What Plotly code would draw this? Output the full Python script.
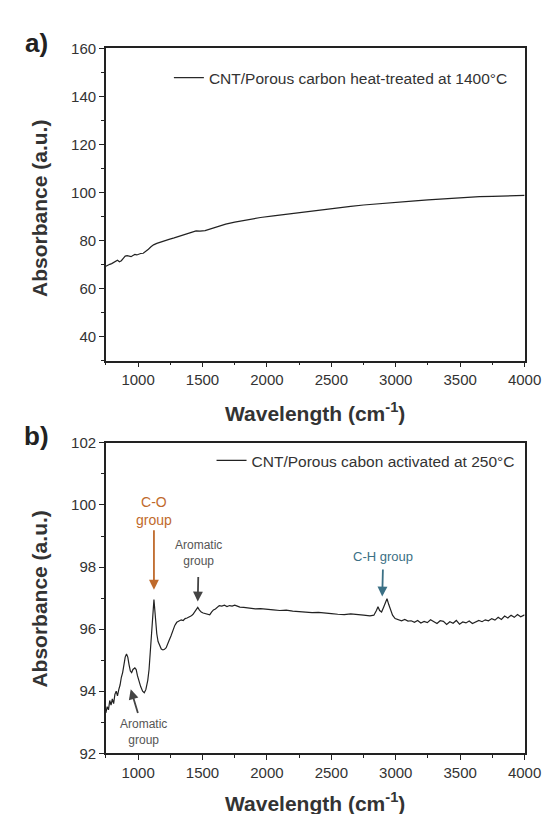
import plotly.graph_objects as go

# panel a) - heat-treated sample
wn_a = [750, 765, 780, 795, 810, 825, 840, 855, 870, 885, 900, 915, 930, 945, 960, 975, 990,
        1005, 1020, 1040, 1060, 1080, 1100, 1120, 1145, 1170, 1200, 1240, 1280, 1320, 1370,
        1420, 1450, 1480, 1520, 1570, 1620, 1680, 1750, 1850, 1950, 2050, 2150, 2250, 2350,
        2450, 2550, 2650, 2750, 2850, 2950, 3050, 3150, 3250, 3350, 3450, 3550, 3650, 3750,
        3850, 3950, 4000]
abs_a = [69.3, 69.8, 70.1, 70.4, 70.9, 71.5, 71.8, 71.2, 71.6, 72.6, 73.5, 73.7, 73.4, 73.3,
         73.8, 74.2, 74.0, 74.4, 74.6, 74.7, 75.4, 76.4, 77.4, 78.2, 78.8, 79.3, 79.8, 80.5,
         81.1, 81.7, 82.5, 83.5, 84.0, 83.9, 84.1, 85.0, 85.9, 86.8, 87.7, 88.7, 89.6, 90.3,
         91.0, 91.6, 92.2, 92.8, 93.5, 94.2, 94.8, 95.3, 95.7, 96.1, 96.5, 96.9, 97.3, 97.7,
         98.0, 98.3, 98.4, 98.5, 98.7, 98.8]

# panel b) - activated sample
wn_b = [750, 760, 770, 780, 790, 800, 810, 820, 830, 840, 850, 860, 870, 880, 890, 900, 910,
        920, 930, 940, 950, 960, 975, 985, 995, 1005, 1020, 1035, 1048, 1060, 1075, 1085,
        1095, 1105, 1112, 1118, 1123, 1130, 1137, 1145, 1155, 1168, 1180, 1193, 1205, 1218,
        1230, 1242, 1255, 1270, 1285, 1300, 1318, 1335, 1350, 1365, 1380, 1395, 1410, 1425,
        1440, 1452, 1463, 1475, 1490, 1505, 1520, 1540, 1556, 1570, 1585, 1600, 1615, 1630,
        1650, 1670, 1690, 1710, 1730, 1750, 1770, 1790, 1820, 1850, 1880, 1910, 1950, 2000,
        2050, 2100, 2150, 2200, 2250, 2300, 2350, 2400, 2450, 2500, 2550, 2600, 2650, 2700,
        2750, 2800, 2830, 2850, 2862, 2875, 2890, 2905, 2920, 2932, 2945, 2960, 2975, 2995,
        3020, 3045, 3070, 3095, 3120, 3145, 3170, 3195, 3220, 3245, 3270, 3295, 3320, 3345,
        3370, 3395, 3420, 3445, 3470, 3495, 3520, 3545, 3570, 3595, 3620, 3645, 3670, 3695,
        3720, 3745, 3770, 3795, 3820, 3845, 3870, 3895, 3920, 3945, 3970, 4000]
abs_b = [93.3, 93.5, 93.4, 93.7, 93.55, 93.75, 93.6, 93.9, 94.0, 93.85, 94.05, 94.2, 94.45,
         94.6, 94.85, 95.1, 95.2, 95.1, 94.85, 94.65, 94.6, 94.7, 94.75, 94.7, 94.5, 94.35,
         94.15, 94.0, 93.95, 94.05, 94.35, 94.7, 95.3, 95.8, 96.4, 96.85, 96.95, 96.6, 96.2,
         95.85, 95.6, 95.45, 95.36, 95.33, 95.35, 95.4, 95.5, 95.65, 95.78, 95.95, 96.12,
         96.22, 96.26, 96.3, 96.28, 96.34, 96.36, 96.38, 96.42, 96.47, 96.55, 96.65, 96.7,
         96.62, 96.55, 96.52, 96.5, 96.47, 96.46, 96.55, 96.62, 96.65, 96.72, 96.76, 96.74,
         96.77, 96.73, 96.76, 96.74, 96.77, 96.74, 96.71, 96.7, 96.68, 96.67, 96.65, 96.66,
         96.63, 96.62, 96.6, 96.61, 96.58, 96.56, 96.55, 96.53, 96.54, 96.51, 96.5, 96.48,
         96.47, 96.49, 96.46, 96.45, 96.43, 96.45, 96.6, 96.72, 96.6, 96.55, 96.7, 96.9,
         96.98, 96.8, 96.6, 96.45, 96.34, 96.3, 96.27, 96.31, 96.26, 96.27, 96.22, 96.28,
         96.2, 96.25, 96.21, 96.3, 96.24, 96.18, 96.27, 96.25, 96.15, 96.24, 96.19, 96.28,
         96.16, 96.23, 96.2, 96.26, 96.18, 96.22, 96.28, 96.24, 96.3, 96.27, 96.34, 96.29,
         96.38, 96.31, 96.42, 96.36, 96.45, 96.38, 96.47, 96.4, 96.46]

name_a = "CNT/Porous carbon heat-treated at 1400°C"
name_b = "CNT/Porous cabon activated at 250°C"

FONT = "Arial, Liberation Sans, sans-serif"
INK = "#222222"
BROWN = "#bf6a2c"
TEAL = "#3b7085"
GREY = "#555555"

W, H = 552, 814
x0, x1 = 101 / W, 533 / W

fig = go.Figure()
fig.add_trace(go.Scatter(x=wn_a, y=abs_a, mode="lines", name=name_a, showlegend=True,
                         line=dict(color=INK, width=1.2), xaxis="x", yaxis="y", legend="legend"))
fig.add_trace(go.Scatter(x=wn_b, y=abs_b, mode="lines", name=name_b, showlegend=True,
                         line=dict(color=INK, width=1.2), xaxis="x2", yaxis="y2", legend="legend2"))

axis_style = dict(showline=True, mirror=True, linecolor=INK, linewidth=1.6,
                  ticks="outside", ticklen=5, tickwidth=1.4, tickcolor=INK,
                  showgrid=False, zeroline=False,
                  tickfont=dict(family=FONT, size=15, color="#333333"))

fig.update_layout(
    width=W, height=H,
    margin=dict(l=0, r=0, t=0, b=0),
    paper_bgcolor="white", plot_bgcolor="white",
    font=dict(family=FONT, color=INK),
    showlegend=True,
    xaxis=dict(domain=[x0, x1], range=[750, 4000], tick0=0, dtick=500, anchor="y",
               minor=dict(ticks="outside", ticklen=3, tickwidth=1.2, tickcolor=INK, dtick=250, tick0=0),
               **axis_style),
    yaxis=dict(domain=[1 - 351 / H, 1 - 32 / H], range=[30, 160], tick0=0, dtick=20, anchor="x",
               minor=dict(ticks="outside", ticklen=3, tickwidth=1.2, tickcolor=INK, dtick=10, tick0=0),
               **axis_style),
    xaxis2=dict(domain=[x0, x1], range=[750, 4000], tick0=0, dtick=500, anchor="y2",
                minor=dict(ticks="outside", ticklen=3, tickwidth=1.2, tickcolor=INK, dtick=250, tick0=0),
                **axis_style),
    yaxis2=dict(domain=[1 - 752 / H, 1 - 435 / H], range=[92, 102], tick0=0, dtick=2, anchor="x2",
                minor=dict(ticks="outside", ticklen=3, tickwidth=1.2, tickcolor=INK, dtick=1, tick0=0),
                **axis_style),
    legend=dict(x=166 / W, y=1 - 45 / H, xanchor="left", yanchor="top",
                bgcolor="rgba(0,0,0,0)", font=dict(family=FONT, size=15.5, color="#333333")),
    legend2=dict(x=210 / W, y=1 - 436 / H, xanchor="left", yanchor="top",
                 bgcolor="rgba(0,0,0,0)", font=dict(family=FONT, size=15.5, color="#333333")),
)

ann = []
# panel letters
ann.append(dict(text="<b>a)</b>", x=29 / W, y=1 - 27 / H, xref="paper", yref="paper",
                xanchor="center", yanchor="middle", showarrow=False, font=dict(size=26, color=INK)))
ann.append(dict(text="<b>b)</b>", x=29 / W, y=1 - 428 / H, xref="paper", yref="paper",
                xanchor="center", yanchor="middle", showarrow=False, font=dict(size=26, color=INK)))
# axis titles
for yc in (403, 802):
    ann.append(dict(text="<b>Wavelength (cm<sup>-1</sup>)</b>", x=(x0 + x1) / 2, y=1 - yc / H,
                    xref="paper", yref="paper", xanchor="center", yanchor="middle",
                    showarrow=False, font=dict(size=21, color="#333333")))
for yc in (195, 594):
    ann.append(dict(text="<b>Absorbance (a.u.)</b>", x=33 / W, y=1 - yc / H, textangle=-90,
                    xref="paper", yref="paper", xanchor="center", yanchor="middle",
                    showarrow=False, font=dict(size=21, color="#333333")))

# peak labels with arrows, panel b (text sits at the arrow tail)
ann.append(dict(text="C-O<br>group", x=1123, y=97.27, xref="x2", yref="y2",
                showarrow=True, ax=0, ay=-79, startstandoff=1,
                arrowhead=2, arrowsize=1.1, arrowwidth=1.8, arrowcolor=BROWN,
                font=dict(size=14, color=BROWN)))
ann.append(dict(text="Aromatic<br>group", x=1463, y=96.89, xref="x2", yref="y2",
                showarrow=True, ax=1, ay=-49, startstandoff=8,
                arrowhead=2, arrowsize=1.1, arrowwidth=1.8, arrowcolor="#444444",
                font=dict(size=12, color=GREY)))
ann.append(dict(text="C-H group", x=2895, y=97.05, xref="x2", yref="y2",
                showarrow=True, ax=1, ay=-40, startstandoff=4,
                arrowhead=2, arrowsize=1.1, arrowwidth=1.8, arrowcolor=TEAL,
                font=dict(size=13, color=TEAL)))
ann.append(dict(text="Aromatic<br>group", x=943, y=94.06, xref="x2", yref="y2",
                showarrow=True, ax=13, ay=43, startstandoff=3,
                arrowhead=2, arrowsize=1.1, arrowwidth=1.8, arrowcolor="#444444",
                font=dict(size=12, color=GREY)))

fig.update_layout(annotations=ann)

fig.write_html("out.html")
